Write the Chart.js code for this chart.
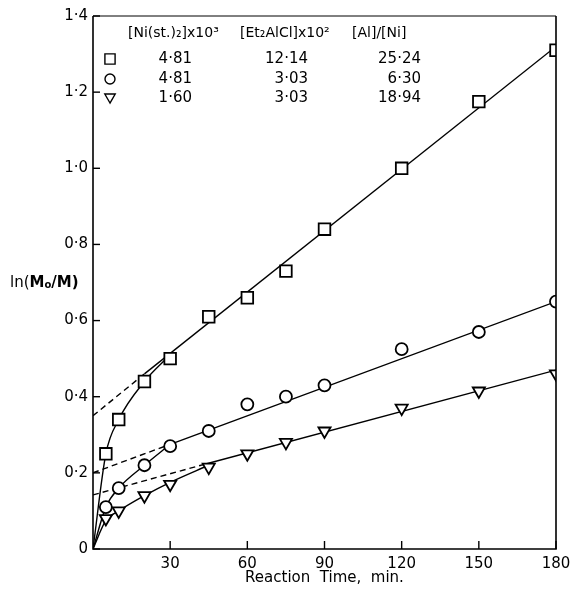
<!DOCTYPE html>
<html>
<head>
<meta charset="utf-8">
<script src="https://cdn.jsdelivr.net/npm/chart.js@4.4.1/dist/chart.umd.min.js"></script>
<style>
  html, body { margin: 0; padding: 0; background: #fff; }
  #wrap { width: 577px; height: 593px; }
</style>
</head>
<body>
<div id="wrap"><canvas id="kinetics" width="577" height="593"></canvas></div>
<script>
// sampling times (min)
const times = [5, 10, 20, 30, 45, 60, 75, 90, 120, 150, 180];

// ln(Mo/M) for the three catalyst runs
const squareVals   = [0.25, 0.34, 0.44, 0.50, 0.61, 0.66, 0.73, 0.84, 1.00, 1.175, 1.31];
const circleVals   = [0.11, 0.16, 0.22, 0.27, 0.31, 0.38, 0.40, 0.43, 0.525, 0.57, 0.65];
const triangleVals = [0.08, 0.10, 0.14, 0.17, 0.215, 0.25, 0.28, 0.31, 0.37, 0.415, 0.46];

// hand-drawn initial curves [t, y]
const squareCurve   = [[0, 0], [5, 0.25], [10, 0.34], [20, 0.44], [30, 0.51]];
const circleCurve   = [[0, 0], [5, 0.11], [10, 0.16], [20, 0.22], [30, 0.275]];
const triangleCurve = [[0, 0], [5, 0.075], [10, 0.10], [20, 0.14], [30, 0.175], [45, 0.22]];

// linear stage: intercept, start of solid part, end point
const squareLine   = [[0, 0.35], [20, 0.46], [180, 1.32]];
const circleLine   = [[0, 0.20], [30, 0.275], [180, 0.65]];
const triangleLine = [[0, 0.142], [42, 0.22], [180, 0.47]];

// table printed in the upper left
const tableHead = ['[Ni(st.)₂]x10³', '[Et₂AlCl]x10²', '[Al]/[Ni]'];
const tableNi   = ['4·81', '4·81', '1·60'];
const tableAl   = ['12·14', '3·03', '3·03'];
const tableRatio = ['25·24', '6·30', '18·94'];

const xTicks = [30, 60, 90, 120, 150, 180];
const yTicks = [0, 0.2, 0.4, 0.6, 0.8, 1.0, 1.2, 1.4];

const FONT = '"DejaVu Sans", sans-serif';
const toXY = arr => arr.map(p => ({ x: p[0], y: p[1] }));
const pts = vals => times.map((t, i) => ({ x: t, y: vals[i] }));
const dec = v => v === 0 ? '0' : v.toFixed(1).replace('.', '·');

// marker shapes: [pointStyle, radius, rotation]
const SQUARE = ['rect', 8.2, 0];
const CIRCLE = ['circle', 6, 0];
const TRIANGLE = ['triangle', 7, 180];

function curve(data) {
  return {
    type: 'line', data: toXY(data), borderColor: '#000', borderWidth: 1.4,
    pointRadius: 0, cubicInterpolationMode: 'monotone', order: 2
  };
}
function fitLine(data) {
  return {
    type: 'line', data: toXY(data), borderColor: '#000', borderWidth: 1.4,
    pointRadius: 0, tension: 0, order: 2,
    segment: { borderDash: ctx => ctx.p0DataIndex === 0 ? [6, 4] : undefined }
  };
}
function marks(vals, shape) {
  return {
    type: 'scatter', data: pts(vals), pointStyle: shape[0], pointRadius: shape[1],
    pointRotation: shape[2], borderColor: '#000', borderWidth: 1.8,
    backgroundColor: '#fff', order: 1, showLine: false
  };
}

// inward ticks, frame and the text that is not part of the axes
const decor = {
  id: 'decor',
  afterDraw(chart) {
    const c = chart.ctx, a = chart.chartArea;
    const xs = chart.scales.x, ys = chart.scales.y;
    c.save();
    c.strokeStyle = '#000';
    c.lineWidth = 1.6;
    c.beginPath();
    c.moveTo(a.left, a.top); c.lineTo(a.left, a.bottom); c.lineTo(a.right, a.bottom); c.lineTo(a.right, a.top);
    c.stroke();
    c.lineWidth = 1;
    c.beginPath(); c.moveTo(a.left, a.top); c.lineTo(a.right, a.top); c.stroke();
    c.lineWidth = 1.4;
    yTicks.forEach(v => {
      const y = ys.getPixelForValue(v);
      c.beginPath(); c.moveTo(a.left, y); c.lineTo(a.left + 7, y); c.stroke();
    });
    xTicks.forEach(v => {
      const x = xs.getPixelForValue(v);
      c.beginPath(); c.moveTo(x, a.bottom); c.lineTo(x, a.bottom - 8); c.stroke();
    });

    c.fillStyle = '#000';
    c.textBaseline = 'middle';
    // axis titles
    c.font = '15px ' + FONT;
    c.textAlign = 'center';
    c.fillText('Reaction  Time,  min.', (a.left + a.right) / 2, 578);
    c.textAlign = 'left';
    let x = 10;
    const ty = 283;
    c.fillText('ln(', x, ty); x += c.measureText('ln(').width;
    c.font = 'bold 15px ' + FONT;
    c.fillText('M', x, ty); x += c.measureText('M').width;
    c.font = 'bold 10px ' + FONT;
    c.fillText('o', x, ty + 2); x += c.measureText('o').width;
    c.font = 'bold 15px ' + FONT;
    c.fillText('/M)', x, ty);

    // table
    c.font = '14px ' + FONT;
    c.textAlign = 'left';
    c.fillText(tableHead[0], 128, 33);
    c.fillText(tableHead[1], 240, 33);
    c.fillText(tableHead[2], 352, 33);
    const rows = [59, 79, 98];
    c.font = '15px ' + FONT;
    c.textAlign = 'right';
    rows.forEach((y, i) => {
      c.fillText(tableNi[i], 192, y);
      c.fillText(tableAl[i], 308, y);
      c.fillText(tableRatio[i], 421, y);
    });

    // table symbols, same renderer as the plotted points
    c.strokeStyle = '#000'; c.fillStyle = '#fff';
    [SQUARE, CIRCLE, TRIANGLE].forEach((s, i) => {
      Chart.helpers.drawPoint(c, { pointStyle: s[0], radius: s[1] - 1, rotation: s[2], borderWidth: 1.7 }, 110, [59, 79, 97][i]);
    });
    c.restore();
  }
};

new Chart(document.getElementById('kinetics'), {
  data: {
    datasets: [
      curve(squareCurve), curve(circleCurve), curve(triangleCurve),
      fitLine(squareLine), fitLine(circleLine), fitLine(triangleLine),
      marks(squareVals, SQUARE),
      marks(circleVals, CIRCLE),
      marks(triangleVals, TRIANGLE)
    ]
  },
  options: {
    responsive: false,
    animation: false,
    layout: { padding: { top: 16, right: 21, left: 0, bottom: 0 } },
    plugins: { legend: { display: false }, tooltip: { enabled: false } },
    scales: {
      x: {
        type: 'linear', min: 0, max: 180,
        afterBuildTicks: s => { s.ticks = xTicks.map(v => ({ value: v })); },
        afterFit: s => { s.height = 44; },
        grid: { display: false, drawTicks: false, tickLength: 0 },
        border: { display: false },
        ticks: { color: '#000', padding: 6, font: { family: FONT, size: 15 }, maxRotation: 0 }
      },
      y: {
        type: 'linear', min: 0, max: 1.4,
        afterBuildTicks: s => { s.ticks = yTicks.map(v => ({ value: v })); },
        afterFit: s => { s.width = 93; },
        grid: { display: false, drawTicks: false, tickLength: 0 },
        border: { display: false },
        ticks: { color: '#000', padding: 5, font: { family: FONT, size: 15 }, callback: v => dec(v) }
      }
    }
  },
  plugins: [decor]
});
</script>
</body>
</html>
